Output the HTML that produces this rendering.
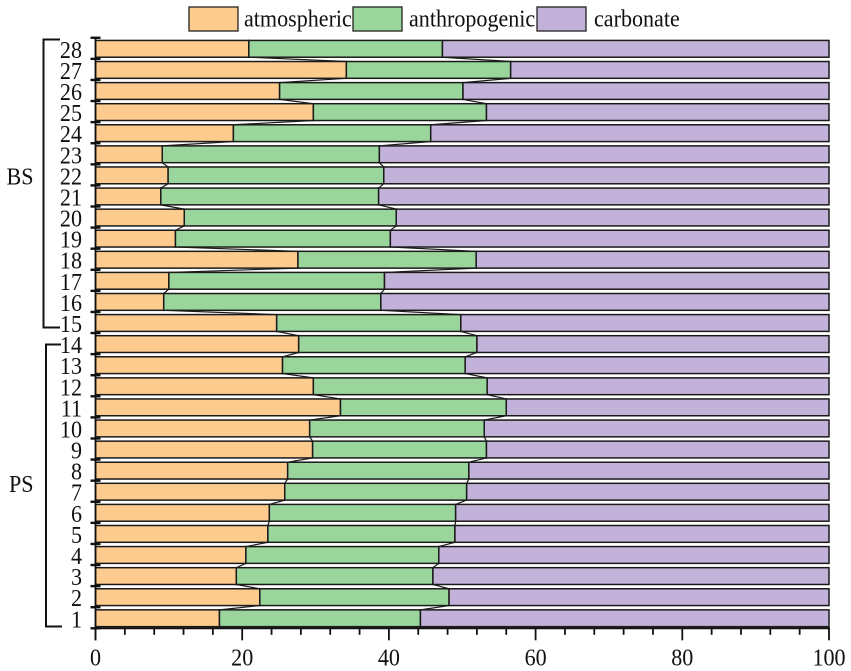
<!DOCTYPE html>
<html>
<head>
<meta charset="utf-8">
<style>
html,body{margin:0;padding:0;background:#fff;width:851px;height:671px;overflow:hidden}
svg{display:block}
text{font-family:"Liberation Serif",serif;fill:#111}
</style>
</head>
<body>
<svg id="chart" width="851" height="671" viewBox="0 0 851 671" xmlns="http://www.w3.org/2000/svg">
  <g id="brackets" fill="none" stroke="#111" stroke-width="2">
    <path d="M60 39.5H43.5V327.5H60"/>
    <path d="M61 344.5H46V626.5H62"/>
  </g>
  <text transform="translate(6.5 184.5) scale(.92 1)" font-size="24">BS</text>
  <text transform="translate(9 492) scale(.92 1)" font-size="24">PS</text>
  <g id="legend"></g>
  <g id="connectors"></g>
  <g id="bars"></g>
  <g id="axes"></g>
</svg>
<script>
const categories = [1,2,3,4,5,6,7,8,9,10,11,12,13,14,15,16,17,18,19,20,21,22,23,24,25,26,27,28];
const atmospheric = [16.9,22.4,19.2,20.5,23.5,23.7,25.8,26.2,29.6,29.2,33.4,29.7,25.5,27.7,24.7,9.3,10.0,27.6,10.9,12.1,8.9,9.9,9.1,18.8,29.7,25.1,34.2,20.9];
const anthropogenic = [27.4,25.8,26.8,26.3,25.5,25.4,24.8,24.7,23.7,23.8,22.6,23.7,24.9,24.3,25.1,29.6,29.4,24.3,29.3,28.9,29.7,29.4,29.6,26.9,23.6,25.0,22.4,26.4];
const carbonate = [55.7,51.8,54.0,53.2,51.0,50.9,49.4,49.1,46.7,47.0,44.0,46.6,49.6,48.0,50.2,61.1,60.6,48.1,59.8,59.0,61.4,60.7,61.3,54.3,46.7,49.9,43.4,52.7];
const xTickLabels = [0,20,40,60,80,100];
const xMinorTicks = [4,8,12,16,24,28,32,36,44,48,52,56,64,68,72,76,84,88,92,96];
const seriesNames = ["atmospheric","anthropogenic","carbonate"];

const NS = "http://www.w3.org/2000/svg";
const colors = ["#FECB8F","#9AD59C","#C2B1D8"];
const stroke = "#1a1a1a";
const x0 = 95.5, x100 = 829, yBottom = 628.3, band = 21.09, barH = 16.8;
const xScale = v => x0 + (x100 - x0) * v / 100;
const yCenter = i => yBottom - band * (i + 0.5) + 0.5;

function mk(tag, attrs, parent) {
  const el = document.createElementNS(NS, tag);
  for (const k in attrs) el.setAttribute(k, attrs[k]);
  parent.appendChild(el);
  return el;
}
function textAt(x, y, size, anchor, parent) {
  return mk("text", {transform: "translate(" + x + " " + y + ") scale(.92 1)", "font-size": size, "text-anchor": anchor}, parent);
}

const barsG = document.getElementById("bars");
const connG = document.getElementById("connectors");
const axesG = document.getElementById("axes");
const legG = document.getElementById("legend");
const series = [atmospheric, anthropogenic, carbonate];

categories.forEach((cat, i) => {
  let cum = 0;
  series.forEach((vals, s) => {
    const start = cum;
    cum += vals[i];
    const r = mk("rect", {x: xScale(start), y: yCenter(i) - barH / 2, width: xScale(cum) - xScale(start), height: barH, fill: colors[s], stroke: stroke, "stroke-width": 1.5}, barsG);
    
    
  });
  if (i < categories.length - 1) {
    let c = 0;
    for (let s = 0; s < 2; s++) {
      c += series[s][i];
      const next = series.slice(0, s + 1).reduce((a, v) => a + v[i + 1], 0);
      const l = mk("line", {x1: xScale(c), y1: yCenter(i) - barH / 2, x2: xScale(next), y2: yCenter(i + 1) + barH / 2, stroke: stroke, "stroke-width": 1.2}, connG);
      
      
    }
  }
  const t = textAt(82, yCenter(i) + 9, 24, "end", axesG);
  t.textContent = cat;
  
  
});

for (let i = 0; i <= categories.length; i++) {
  const y = yBottom - band * i;
  const l = mk("line", {x1: 90.5, x2: 100.5, y1: y, y2: y, stroke: "#111", "stroke-width": 2.4}, axesG);
  
  
}

const yAxis = mk("line", {x1: x0, x2: x0, y1: yBottom - band * categories.length - 1, y2: yBottom + 12, stroke: "#111", "stroke-width": 1.8}, axesG);


const xAxis = mk("line", {x1: x0, x2: x100 + 1, y1: yBottom, y2: yBottom, stroke: "#111", "stroke-width": 2}, axesG);



xMinorTicks.forEach(v => {
  const l = mk("line", {x1: xScale(v), x2: xScale(v), y1: yBottom, y2: yBottom + 6.5, stroke: "#111", "stroke-width": 1.8}, axesG);
  
  
});
xTickLabels.forEach(v => {
  const l = mk("line", {x1: xScale(v), x2: xScale(v), y1: yBottom, y2: yBottom + 12, stroke: "#111", "stroke-width": 1.8}, axesG);
  
  
  const t = textAt(xScale(v), 665.5, 24, "middle", axesG);
  t.textContent = v;
  
  
});

const legendSwatchX = [189, 353, 537];
const legendTextX = [244, 409, 594];
seriesNames.forEach((name, s) => {
  const r = mk("rect", {x: legendSwatchX[s], y: 7, width: 49, height: 24, fill: colors[s], stroke: "#222", "stroke-width": 1.3}, legG);
  
  
  const t = textAt(legendTextX[s], 26.5, 24, "start", legG);
  t.textContent = name;
  
  
});
</script>
</body>
</html>
